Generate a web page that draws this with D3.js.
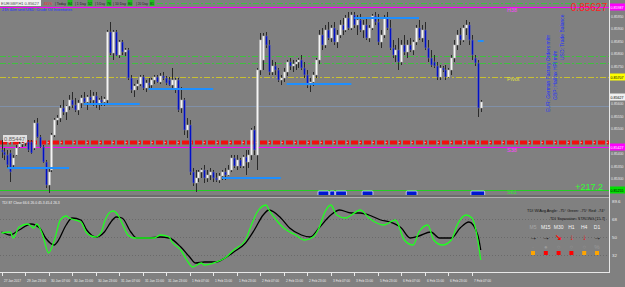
<!DOCTYPE html>
<html><head><meta charset="utf-8">
<script src="https://cdn.jsdelivr.net/npm/d3@7"></script>
<style>html,body{margin:0;padding:0;background:#808080;overflow:hidden}svg{display:block}text{font-family:"Liberation Sans",Arial,sans-serif}</style>
</head><body><svg id="c" width="625" height="287"></svg>
<script>
// ---------- DATA ----------
const timeLabels = ["27 Jan 2017","29 Jan 23:00","30 Jan 07:00","30 Jan 15:00","30 Jan 23:00","31 Jan 07:00","31 Jan 15:00","31 Jan 23:00","1 Feb 07:00","1 Feb 15:00","1 Feb 23:00","2 Feb 07:00","2 Feb 15:00","2 Feb 23:00","3 Feb 07:00","3 Feb 15:00","5 Feb 23:00","6 Feb 07:00","6 Feb 15:00","6 Feb 23:00","7 Feb 07:00"];
const timeLabelBars = [0,8,16,24,32,40,48,56,64,72,80,88,96,104,112,120,128,136,144,152,160];

const open = [0.85415,0.85407,0.85395,0.85403,0.85355,0.85395,0.85427,0.85439,0.85443,0.85447,0.85447,0.85423,0.85523,0.85467,0.85427,0.85367,0.85275,0.85335,0.85475,0.85535,0.85543,0.85583,0.85567,0.85591,0.85615,0.85595,0.85575,0.85603,0.85623,0.85607,0.85627,0.85615,0.85631,0.85599,0.85615,0.85607,0.85615,0.85887,0.85803,0.85887,0.85795,0.85847,0.85807,0.85815,0.85703,0.85655,0.85671,0.85679,0.85707,0.85663,0.85683,0.85675,0.85695,0.85707,0.85687,0.85711,0.85703,0.85695,0.85675,0.85663,0.85695,0.85583,0.85615,0.85495,0.85515,0.85327,0.85283,0.85303,0.85327,0.85335,0.85303,0.85315,0.85327,0.85303,0.85295,0.85311,0.85327,0.85315,0.85335,0.85383,0.85351,0.85375,0.85351,0.85387,0.85367,0.85395,0.85495,0.85395,0.85735,0.85775,0.85871,0.85835,0.85727,0.85751,0.85735,0.85695,0.85703,0.85727,0.85767,0.85751,0.85759,0.85767,0.85775,0.85743,0.85715,0.85675,0.85687,0.85715,0.85775,0.85875,0.85835,0.85895,0.85863,0.85903,0.85847,0.85875,0.85915,0.85895,0.85943,0.85903,0.85955,0.85915,0.85935,0.85895,0.85915,0.85863,0.85903,0.85951,0.85927,0.85847,0.85875,0.85943,0.85903,0.85823,0.85795,0.85815,0.85767,0.85835,0.85807,0.85835,0.85815,0.85847,0.85903,0.85863,0.85895,0.85823,0.85783,0.85767,0.85751,0.85707,0.85743,0.85735,0.85707,0.85735,0.85783,0.85835,0.85875,0.85855,0.85903,0.85915,0.85855,0.85783,0.85763,0.85583];
const high = [0.85455,0.85423,0.85415,0.85415,0.85395,0.85435,0.85447,0.85455,0.85463,0.85455,0.85455,0.85535,0.85543,0.85475,0.85435,0.85375,0.85343,0.85483,0.85543,0.85555,0.85595,0.85615,0.85595,0.85635,0.85647,0.85623,0.85615,0.85635,0.85647,0.85635,0.85655,0.85647,0.85647,0.85623,0.85631,0.85627,0.85895,0.85927,0.85895,0.85895,0.85855,0.85855,0.85823,0.85823,0.85715,0.85679,0.85695,0.85715,0.85715,0.85695,0.85703,0.85703,0.85715,0.85715,0.85723,0.85727,0.85711,0.85707,0.85743,0.85703,0.85703,0.85667,0.85623,0.85543,0.85535,0.85343,0.85335,0.85335,0.85343,0.85355,0.85335,0.85343,0.85335,0.85323,0.85323,0.85335,0.85343,0.85355,0.85395,0.85395,0.85395,0.85383,0.85395,0.85415,0.85415,0.85503,0.85511,0.85743,0.85883,0.85883,0.85887,0.85855,0.85775,0.85767,0.85743,0.85715,0.85743,0.85775,0.85783,0.85775,0.85775,0.85783,0.85795,0.85767,0.85735,0.85703,0.85727,0.85783,0.85895,0.85903,0.85915,0.85927,0.85915,0.85927,0.85895,0.85935,0.85943,0.85955,0.85967,0.85967,0.85967,0.85955,0.85959,0.85935,0.85943,0.85915,0.85959,0.85967,0.85959,0.85895,0.85955,0.85967,0.85935,0.85855,0.85835,0.85863,0.85855,0.85875,0.85855,0.85863,0.85855,0.85915,0.85935,0.85915,0.85927,0.85855,0.85815,0.85795,0.85767,0.85755,0.85751,0.85755,0.85743,0.85795,0.85855,0.85895,0.85903,0.85915,0.85935,0.85927,0.85875,0.85795,0.85775,0.85615];
const low = [0.85383,0.85375,0.85343,0.85287,0.85343,0.85391,0.85423,0.85427,0.85431,0.85407,0.85399,0.85415,0.85463,0.85423,0.85363,0.85263,0.85243,0.85327,0.85467,0.85515,0.85527,0.85555,0.85535,0.85575,0.85583,0.85567,0.85555,0.85583,0.85595,0.85575,0.85599,0.85591,0.85583,0.85575,0.85591,0.85591,0.85595,0.85795,0.85775,0.85791,0.85783,0.85795,0.85791,0.85695,0.85643,0.85627,0.85655,0.85671,0.85655,0.85647,0.85663,0.85663,0.85679,0.85683,0.85679,0.85695,0.85675,0.85671,0.85663,0.85643,0.85567,0.85563,0.85475,0.85463,0.85315,0.85271,0.85247,0.85287,0.85303,0.85283,0.85287,0.85295,0.85287,0.85287,0.85283,0.85295,0.85295,0.85311,0.85327,0.85343,0.85335,0.85343,0.85343,0.85315,0.85343,0.85375,0.85395,0.85335,0.85715,0.85735,0.85823,0.85715,0.85715,0.85715,0.85687,0.85675,0.85687,0.85711,0.85735,0.85727,0.85735,0.85743,0.85735,0.85703,0.85663,0.85647,0.85671,0.85703,0.85759,0.85815,0.85823,0.85855,0.85847,0.85835,0.85823,0.85863,0.85875,0.85887,0.85895,0.85895,0.85903,0.85875,0.85887,0.85863,0.85855,0.85847,0.85895,0.85915,0.85835,0.85823,0.85863,0.85895,0.85815,0.85783,0.85767,0.85735,0.85755,0.85795,0.85783,0.85807,0.85795,0.85835,0.85855,0.85847,0.85815,0.85767,0.85747,0.85743,0.85695,0.85695,0.85727,0.85695,0.85703,0.85715,0.85767,0.85815,0.85835,0.85847,0.85875,0.85835,0.85775,0.85751,0.85547,0.85567];
const close = [0.85407,0.85395,0.85355,0.85327,0.85383,0.85423,0.85439,0.85443,0.85447,0.85415,0.85403,0.85523,0.85467,0.85427,0.85367,0.85275,0.85327,0.85475,0.85535,0.85543,0.85583,0.85567,0.85591,0.85615,0.85595,0.85575,0.85603,0.85623,0.85607,0.85627,0.85615,0.85631,0.85599,0.85615,0.85607,0.85619,0.85887,0.85803,0.85887,0.85795,0.85847,0.85807,0.85815,0.85703,0.85655,0.85671,0.85679,0.85707,0.85663,0.85683,0.85675,0.85695,0.85707,0.85687,0.85711,0.85703,0.85683,0.85675,0.85695,0.85695,0.85575,0.85615,0.85495,0.85515,0.85327,0.85283,0.85303,0.85327,0.85335,0.85303,0.85315,0.85327,0.85303,0.85295,0.85311,0.85327,0.85315,0.85335,0.85383,0.85351,0.85375,0.85351,0.85387,0.85367,0.85395,0.85495,0.85415,0.85735,0.85855,0.85871,0.85835,0.85727,0.85751,0.85735,0.85695,0.85703,0.85727,0.85767,0.85751,0.85759,0.85767,0.85775,0.85743,0.85715,0.85675,0.85687,0.85715,0.85775,0.85875,0.85835,0.85895,0.85863,0.85903,0.85847,0.85875,0.85915,0.85895,0.85943,0.85903,0.85955,0.85915,0.85935,0.85895,0.85915,0.85863,0.85903,0.85951,0.85927,0.85847,0.85875,0.85943,0.85903,0.85823,0.85795,0.85815,0.85767,0.85835,0.85807,0.85835,0.85815,0.85847,0.85903,0.85863,0.85895,0.85823,0.85783,0.85755,0.85751,0.85707,0.85743,0.85735,0.85707,0.85735,0.85783,0.85835,0.85875,0.85855,0.85903,0.85915,0.85855,0.85795,0.85763,0.85583,0.85607];

const priceTicks = [0.86000,0.85950,0.85900,0.85850,0.85800,0.85750,0.85700,0.85650,0.85600,0.85550,0.85500,0.85450,0.85400,0.85350,0.85300,0.85250];

const levelNames  = ["top","H38","g1","g2","Pivot","blue","red","S38","S61"];
const levelPrices = [0.86003,0.85987,0.85791,0.85763,0.85707,0.85591,0.85447,0.85427,0.85255];

const segStart = [2,28,50,75,97,120,162];
const segEnd   = [23,47,72,95,119,142,164];
const segPrice = [0.85343,0.85599,0.85659,0.85303,0.85679,0.85943,0.85851];

const btnStart = [108,112,114,123,138,160];
const btnEnd   = [111,113,117,126,141,164];

const tdiGreenBar = [0,3,4,6,9,11,12,14,16,18,20,22,23,27,29,32,34,35,37,38,40,41,43,45,48,52,54,57,58,61,63,65,68,69,73,76,79,83,85,87,90,91,94,96,100,103,106,108,110,112,114,117,119,122,125,127,130,134,137,140,142,145,147,150,153,155,158,160,162,163];
const tdiGreen    = [54,55,49,60,63,59,63,52,34,47,67,71,69,65,54,50,55,65,75,76,70,64,52,49,49,49,52,50,45,37,27,20,24,22,25,29,37,47,62,75,82,77,65,59,52,47,50,59,75,82,72,69,72,77,69,65,62,67,47,42,55,62,47,42,47,62,72,69,47,27];
const tdiBlackBar = [0,3,6,10,13,15,18,19,22,24,27,29,32,35,37,39,41,44,46,50,54,57,61,64,66,69,73,76,79,83,86,89,91,95,98,102,105,108,112,115,119,122,125,129,132,136,139,142,146,149,153,156,159,162,163];
const tdiBlack    = [55,52,57,63,59,49,42,45,62,69,67,57,50,55,64,70,69,55,49,49,50,49,40,30,24,25,25,29,35,44,57,72,77,69,59,52,50,59,72,77,74,74,72,67,65,59,49,51,55,49,49,59,65,52,37];
const tdiTicks = [68,50,32];

const tfNames  = ["M5","M15","M30","H1","H4","D1"];
const tfArrows = ["→","→","↘","↓","↓","→"];
const tfArrowCol = ["#000","#000","#f00","#f00","#f00","#000"];
const tfDots   = ["·","●","○","○","○","%"];
const tfSquare = ["#ffa500","#ff0000","#ff0000","#ff0000","#ffa500","#ffa500"];

const infoTexts = ["-83.5%","| Today","84","| 1 Day","52","| 5 Day","76","| 10 Day","80","| 20 Day","81"];

const bidPrice = 0.85627;
const profitText = "+217.2";

// ---------- DRAW ----------
const svg = d3.select("#c");
const AX = 609, MAINH = 195, IND0 = 198, IND1 = 270;
svg.append("rect").attr("width",625).attr("height",287).attr("fill","#808080");

const x = d3.scaleLinear().domain([0,160]).range([1.5,471.9]);
const y = d3.scaleLinear().domain([0.86015,0.85235]).range([0,MAINH]);
const yi = d3.scaleLinear().domain([50,68]).range([237,219]);

svg.append("clipPath").attr("id","mc").append("rect").attr("x",0).attr("y",0).attr("width",AX).attr("height",MAINH);
const main = svg.append("g").attr("clip-path","url(#mc)");

// shrink font so the natural width equals w
const fit = (sel,w)=>{ const fs = +sel.attr("font-size"); const cw = sel.node().getComputedTextLength(); if(cw>0) sel.attr("font-size",(fs*w/cw).toFixed(2)); return sel; };

const lvStyle = {
  top:{c:"#3fbf3f",w:1,d:"6,2,2,2"}, H38:{c:"#ff00ff",w:1,d:null},
  g1:{c:"#3fbf3f",w:1,d:"6,2,2,2"}, g2:{c:"#3fbf3f",w:1,d:"6,2,2,2"},
  Pivot:{c:"#c8c030",w:1,d:"6,2,2,2"}, blue:{c:"#8090a8",w:1,d:null},
  red:{c:"#ee1010",w:4,d:"7,2,2,2"}, S38:{c:"#ff00ff",w:1,d:null}, S61:{c:"#20d020",w:1,d:null}
};
levelNames.forEach((n,k)=>{
  const s = lvStyle[n];
  const xs = n==="top" ? 157 : 0;
  main.append("line").attr("x1",xs).attr("x2",AX).attr("y1",Math.round(y(levelPrices[k]))+0.5).attr("y2",Math.round(y(levelPrices[k]))+0.5)
    .attr("stroke",s.c).attr("stroke-width",s.w).attr("stroke-dasharray",s.d);
});
main.append("line").attr("x1",0).attr("x2",AX).attr("y1",Math.round(y(levelPrices[6]))+0.5).attr("y2",Math.round(y(levelPrices[6]))+0.5)
  .attr("stroke","#ff8080").attr("stroke-width",1.2).attr("stroke-dasharray","2,11").attr("stroke-dashoffset",-8);

// candles
const bw = 2;
const cg = main.append("g");
open.forEach((o,i)=>{
  const cx = Math.round(x(i));
  cg.append("line").attr("x1",cx+0.5).attr("x2",cx+0.5).attr("y1",y(high[i])).attr("y2",y(low[i])).attr("stroke","#2a2a2a").attr("stroke-width",1);
});
open.forEach((o,i)=>{
  const cx = Math.round(x(i));
  const c = close[i];
  const top = y(Math.max(o,c)), bot = y(Math.min(o,c));
  const bull = c>=o;
  cg.append("rect").attr("x",cx-0.5).attr("width",bw).attr("y",top).attr("height",Math.max(1,bot-top))
    .attr("fill",bull?"#f4f4f4":"#0010c8").attr("stroke",bull?"#b8b8b8":"#7a7aa0").attr("stroke-width",0.5);
});

segStart.forEach((s,k)=>{
  main.append("line").attr("x1",x(segStart[k])).attr("x2",x(segEnd[k])).attr("y1",y(segPrice[k])).attr("y2",y(segPrice[k]))
    .attr("stroke","#1e8fff").attr("stroke-width",2);
});

btnStart.forEach((s,k)=>{
  main.append("rect").attr("x",x(s)-1).attr("y",191).attr("width",x(btnEnd[k])-x(s)+2).attr("height",6).attr("rx",1)
    .attr("fill","#0018d0").attr("stroke","#e0e0ff").attr("stroke-width",0.8);
});

const lbl = (t,xx,yy,c,fs,anchor)=>svg.append("text").attr("x",xx).attr("y",yy).attr("fill",c).attr("font-size",fs).attr("text-anchor",anchor||"start").text(t);
lbl("H38",507,12,"#ff40ff",5.5);
lbl("Pivot",507,81,"#e0e040",5.5);
lbl("S38",507,152,"#ff40ff",5.5);
lbl("S61",507,194,"#30e030",5.5);

svg.append("rect").attr("x",3).attr("y",135).attr("width",24).attr("height",7).attr("fill","#f0f0f0").attr("opacity",0.85);
fit(lbl(d3.format(".5f")(levelPrices[6]),4,141,"#606060",5.5),21);

const vt = (t,xx,yy)=>svg.append("text").attr("transform",`translate(${xx},${yy}) rotate(-90)`).attr("fill","#2030ff").attr("font-size",5).text(t);
vt("EUR: German Factory Orders m/m",550,112);
vt("GBP: Halifax HPI m/m",557,100);
vt("USD: Trade Balance",564,60);

// top info bar
svg.append("rect").attr("x",0).attr("y",0).attr("width",41).attr("height",6).attr("fill","#f0f0f0");
fit(lbl("EURGBP,H1 0.85627",1,5,"#505050",4.6),38);
const infoX = [43,55,68,75,88,95,107,113,128,136,150];
const infoW = [9,11,4,11,4,10,4,13,4,12,4];
infoTexts.forEach((t,k)=>{
  const box = k%2===0 && k>0;
  if(box) svg.append("rect").attr("x",infoX[k]-0.5).attr("y",0).attr("width",infoW[k]+1).attr("height",6).attr("fill","#20c020");
  fit(lbl(t,infoX[k],5,k===0?"#ff2020":"#202020",4.6),infoW[k]);
});
fit(lbl("21h 40m until USD: Crude Oil Inventories",2,11,"#2030ff",5.2),70);

lbl(d3.format(".5f")(bidPrice),607,11,"#ff2020",10,"end");
lbl(profitText,603,190,"#30ff30",9,"end");

// separators / axes
svg.append("rect").attr("x",0).attr("y",MAINH).attr("width",AX).attr("height",3).attr("fill","#6c6c6c");
svg.append("line").attr("x1",0).attr("x2",AX).attr("y1",IND0-0.5).attr("y2",IND0-0.5).attr("stroke","#b0b0b0");
svg.append("line").attr("x1",AX+0.5).attr("x2",AX+0.5).attr("y1",0).attr("y2",IND1+2).attr("stroke","#e8e8e8");
svg.append("line").attr("x1",0).attr("x2",AX+1).attr("y1",IND1+2.5).attr("y2",IND1+2.5).attr("stroke","#e8e8e8");

// price axis
const hiPrices = [levelPrices[1],levelPrices[4],bidPrice,levelPrices[7],levelPrices[8]];
const shownTicks = priceTicks.filter(p=>hiPrices.every(h=>Math.abs(y(p)-y(h))>6));
const yAxis = d3.axisRight(y).tickValues(shownTicks).tickFormat(d3.format(".5f")).tickSize(1).tickPadding(1);
const ya = svg.append("g").attr("transform",`translate(${AX},0)`).call(yAxis);
ya.select(".domain").remove();
ya.selectAll("line").attr("stroke","#e8e8e8");
ya.selectAll("text").attr("fill","#ececec").attr("font-size",4.4).each(function(){ fit(d3.select(this),12.5); });

const axLab = (p,bg,fg)=>{
  const yy = y(p);
  svg.append("rect").attr("x",AX+1).attr("y",yy-3.5).attr("width",15).attr("height",7).attr("fill",bg);
  fit(svg.append("text").attr("x",AX+1.5).attr("y",yy+1.6).attr("fill",fg).attr("font-size",4.4).text(d3.format(".5f")(p)),13);
};
axLab(levelPrices[1],"#ff00ff","#ffffff");
axLab(levelPrices[4],"#ffff00","#000000");
axLab(bidPrice,"#f0f0f0","#000000");
axLab(levelPrices[7],"#ff00ff","#ffffff");
axLab(levelPrices[8],"#00e000","#000000");

// TDI panel
const ig = svg.append("g");
tdiTicks.forEach(v=>{
  ig.append("line").attr("x1",0).attr("x2",AX).attr("y1",Math.round(yi(v))+0.5).attr("y2",Math.round(yi(v))+0.5)
    .attr("stroke","#6a6a6a").attr("stroke-dasharray","1,2");
  svg.append("text").attr("x",AX+3).attr("y",yi(v)+1.5).attr("fill","#ececec").attr("font-size",4.4).text(v);
});
svg.append("text").attr("x",AX+3).attr("y",203).attr("fill","#ececec").attr("font-size",4.4).text("89.6");
const ln = d3.line().curve(d3.curveMonotoneX);
ig.append("path").attr("d",ln(tdiBlackBar.map((b,k)=>[x(b),yi(tdiBlack[k])]))).attr("fill","none").attr("stroke","#000").attr("stroke-width",1.3);
ig.append("path").attr("d",ln(tdiGreenBar.map((b,k)=>[x(b),yi(tdiGreen[k])]))).attr("fill","none").attr("stroke","#20ff20").attr("stroke-width",1.3);
fit(lbl("TDI 87 Close 66.6 26.0 45.3 45.4 26.3",2,204,"#f0f0f0",4.6),58);
fit(lbl("TDI W/Avg Angle: -75°  Green: -75°  Red: -74°",527,212,"#101010",5),78);
fit(lbl("TDI Separation: STRONG [15.7]",550,220,"#101010",5),55);
tfNames.forEach((n,k)=>{
  const cx = 533 + k*12.8;
  lbl(n,cx,229,k===0?"#a8a8a8":"#f4f4f4",5,"middle");
  svg.append("text").attr("x",cx).attr("y",240).attr("fill",tfArrowCol[k]).attr("font-size",8).attr("font-weight","bold").attr("text-anchor","middle").attr("font-family","DejaVu Sans").text(tfArrows[k]);
  svg.append("text").attr("x",cx).attr("y",249).attr("fill","#9a9a9a").attr("font-size",6).attr("text-anchor","middle").attr("font-family","DejaVu Sans").text(tfDots[k]);
  svg.append("rect").attr("x",cx-2).attr("y",251).attr("width",4).attr("height",4).attr("fill",tfSquare[k]);
});

// time axis
timeLabelBars.forEach((b,k)=>{
  const xx = Math.round(x(b));
  svg.append("line").attr("x1",xx+0.5).attr("x2",xx+0.5).attr("y1",IND1+3).attr("y2",IND1+6).attr("stroke","#e8e8e8");
  fit(svg.append("text").attr("x",xx+2).attr("y",282).attr("fill","#ececec").attr("font-size",4.6).text(timeLabels[k]),timeLabels[k].length>11?19:17);
});
</script></body></html>
